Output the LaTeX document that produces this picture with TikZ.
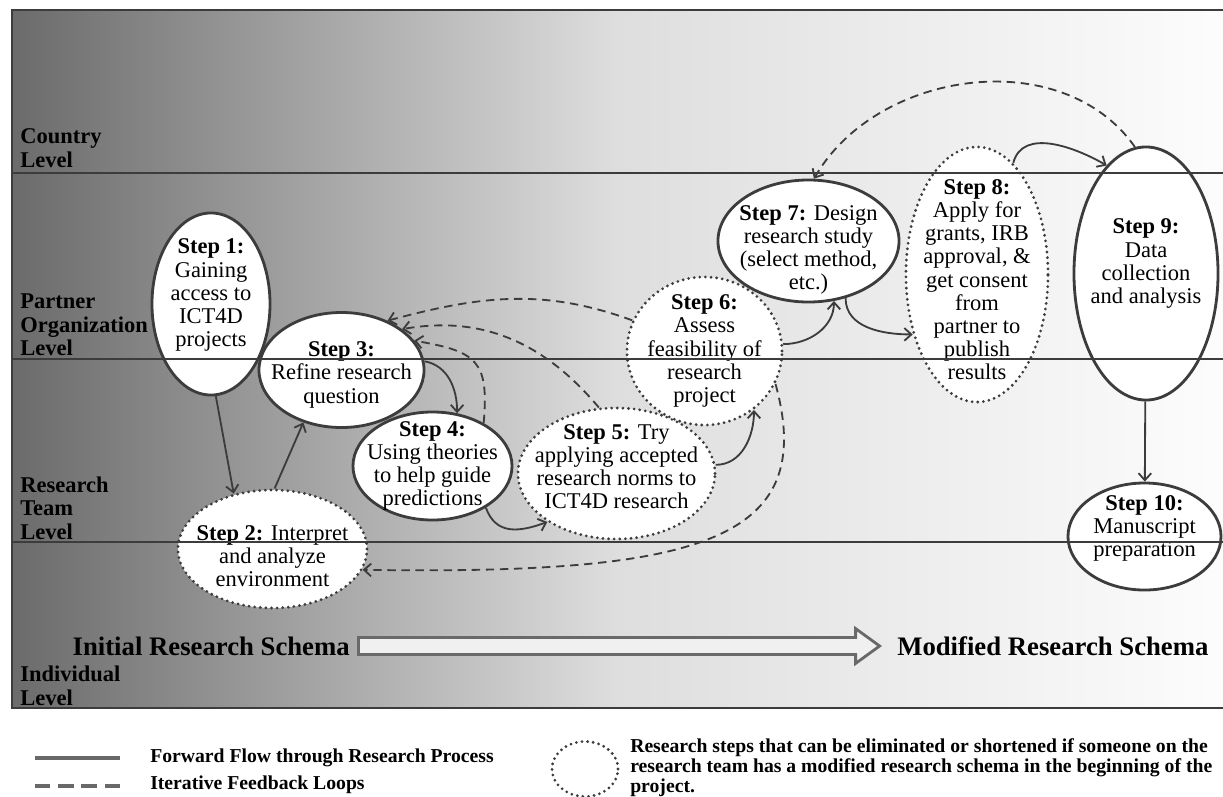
\documentclass[tikz,border=0pt]{standalone}
\usepackage{fontspec}
\setmainfont{Liberation Serif}
\usepackage{xcolor}
\usepackage{tikz}
\usetikzlibrary{positioning, shapes.geometric, shapes.arrows, arrows.meta}
\definecolor{darkline}{RGB}{60,60,60}
\definecolor{keygray}{RGB}{105,105,105}

\begin{document}
\begin{tikzpicture}[
    x=0.025cm, y=-0.025cm,
    % Node styles
    stepnode/.style={ellipse, draw=darkline, fill=white, line width=2pt, inner sep=-60pt, align=center, font=\fontsize{16}{16.5}\selectfont},
    shortstep/.style={stepnode, line width=2.2pt, dash pattern=on 0pt off 4pt, line cap=round},
    level/.style={anchor=west, align=left, inner sep=0pt, font=\fontsize{16}{16.7}\selectfont\bfseries},
    schema/.style={inner sep=0pt, font=\fontsize{19}{20}\selectfont\bfseries},
    schemaarrow/.style={single arrow, draw=keygray, line width=2pt, fill=black!6, minimum height=13.025cm, inner xsep=0pt, inner ysep=5pt, single arrow head extend=6.4pt, single arrow tip angle=72},
    legend/.style={anchor=west, align=left, inner sep=0pt, font=\fontsize{14}{14.2}\selectfont\bfseries},
    % Edge styles
    forward/.style={draw=darkline, line width=1.3pt, ->},
    feedback/.style={forward, dash pattern=on 6pt off 4pt},
    lane/.style={draw=darkline, line width=2pt},
    keyline/.style={draw=keygray, line width=2.2pt},
    >={Straight Barb[length=5pt, width=9pt]}
]
\useasboundingbox (0,0) rectangle (1223,796);

% Background
\shade[left color=black!58, right color=black!1, middle color=black!13] (12,10) rectangle (1223,708);
\draw[lane] (1223,10) -- (12,10) -- (12,708) -- (1223,708);

% Levels
\node[level] (country) at (20,148) {Country\\Level};
\node[level] (partner) at (20,325) {Partner\\Organization\\Level};
\node[level] (team) at (20,508) {Research\\Team\\Level};
\node[level] (indiv) at (20,686) {Individual\\Level};

% Steps
\node[stepnode, minimum width=2.95cm, minimum height=4.55cm, text depth=16pt] (s1) at (211,304) {\textbf{Step 1:}\\Gaining\\access to\\ICT4D\\projects};
\node[shortstep, minimum width=4.725cm, minimum height=2.95cm, text height=54pt] (s2) at (272.5,549) {\textbf{Step 2:} Interpret\\and analyze\\environment};
\node[stepnode, minimum width=4.125cm, minimum height=2.875cm, text height=50.4pt] (s3) at (341.5,370) {\textbf{Step 3:}\\Refine research\\question};
\node[stepnode, minimum width=3.975cm, minimum height=2.7cm] (s4) at (432.5,466) {\textbf{Step 4:}\\Using theories\\to help guide\\predictions};
\node[shortstep, minimum width=4.925cm, minimum height=3.275cm, text depth=10pt] (s5) at (616.5,473.5) {\textbf{Step 5:} Try\\applying accepted\\research norms to\\ICT4D research};
\node[shortstep, minimum width=3.875cm, minimum height=3.7cm] (s6) at (704.5,351) {\textbf{Step 6:}\\Assess\\feasibility of\\research\\project};
\node[stepnode, minimum width=4.525cm, minimum height=3.05cm, text height=73pt] (s7) at (808.5,241) {\textbf{Step 7:} Design\\research study\\(select method,\\etc.)};
\node[shortstep, minimum width=3.55cm, minimum height=6.375cm, text height=150pt] (s8) at (977,274.5) {\textbf{Step 8:}\\Apply for\\grants, IRB\\approval, \&\\get consent\\from\\partner to\\publish\\results};
\node[stepnode, minimum width=3.6cm, minimum height=6.325cm, text depth=17.5pt] (s9) at (1146,273.5) {\textbf{Step 9:}\\Data\\collection\\and analysis};
\node[stepnode, minimum width=3.825cm, minimum height=2.675cm, text depth=15pt] (s10) at (1144.5,536.5) {\textbf{Step 10:}\\Manuscript\\preparation};

% Lanes
\foreach \y in {173,359,542}
    \draw[lane] (12,\y) -- (1223,\y);

% Forward flow
\draw[forward] (s1.-87) -- (s2.125);
\draw[forward] (s2.88) -- (s3.-126);
\draw[forward] (s3.6) to[out=-10, in=90] (s4.65);
\draw[forward] (s4.-38) to[out=-70, in=200, looseness=1.2] (s5.215);
\draw[forward] (s5.5) to[out=0, in=-90] (s6.-50);
\draw[forward] (s6.5) to[out=0, in=-90] (s7.-67);
\draw[forward] (s7.-57) to[out=-90, in=180] (s8.223);
\draw[forward] (s8.72) to[out=75, in=150] (s9.110);
\draw[forward] (s9) -- (s10);

% Feedback loops
\draw[feedback] (s6.157) to[out=160, in=15] (s3.47);
\draw[feedback] (s5.105) to[out=130, in=10] (s3.34);
\draw[feedback] (s4.40) to[out=85, in=-10, looseness=1.5] (s3.22);
\draw[feedback] (s6.-25) .. controls +(43,157) and +(337,5) .. (s2.-13);
\draw[feedback] (s9.95) to[out=125, in=60] (s7.85);

% Schema
\node[schema, anchor=east] (initial) at (350,646) {Initial Research Schema};
\node[schemaarrow, right=0.175cm of initial] (shift) {};
\node[schema, right=0.375cm of shift] (modified) {Modified Research Schema};

% Legend
\coordinate (fwdstart) at (35,758);
\coordinate (fwdend) at (120,758);
\coordinate (fbstart) at (35,786);
\coordinate (fbend) at (120,786);
\draw[keyline] (fwdstart) -- (fwdend);
\draw[keyline, dash pattern=on 11pt off 5.5pt] (fbstart) -- (fbend);
\node[legend] (fwdtext) at (150,758) {Forward Flow through Research Process};
\node[legend] (fbtext) at (150,785) {Iterative Feedback Loops};
\node[shortstep, fill=none, minimum width=1.65cm, minimum height=1.375cm] (dotkey) at (585,769) {};
\node[legend] (dottext) at (630,768) {Research steps that can be eliminated or shortened if someone on the\\research team has a modified research schema in the beginning of the\\project.};

\end{tikzpicture}
\end{document}
